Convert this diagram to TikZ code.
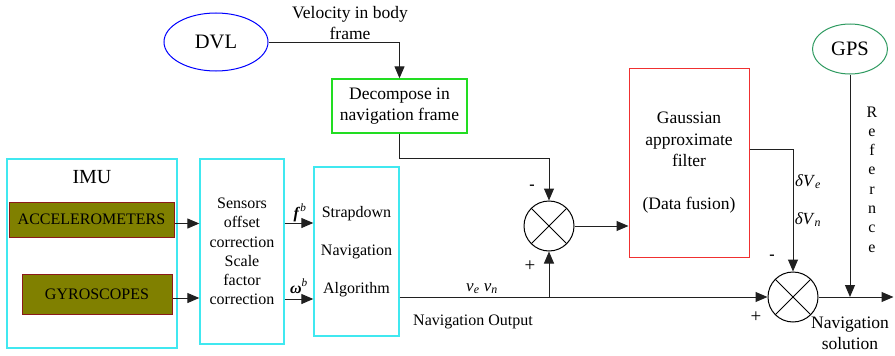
\documentclass[tikz,border=0pt]{standalone}
\usepackage{fontspec}
\setmainfont{Liberation Serif}
\usetikzlibrary{arrows.meta,shapes.geometric,calc}
\definecolor{boxcyan}{HTML}{40E8F0}
\definecolor{decgreen}{HTML}{22DD22}
\definecolor{filtred}{HTML}{F03030}
\definecolor{gpsgreen}{HTML}{2E9A60}
\definecolor{olivefill}{HTML}{808000}
\definecolor{olivebord}{HTML}{8B1A1A}
\definecolor{linecol}{HTML}{202020}
\begin{document}
\begin{tikzpicture}[x=1pt,y=-1pt,
  base/.style={font=\fontsize{16}{19.2}\selectfont, inner sep=0pt, align=center},
  big/.style={font=\fontsize{17.5}{21.3}\selectfont, inner sep=0pt, align=center},
  cyanbox/.style={draw=boxcyan, line width=1.3pt, rectangle},
  sensorbox/.style={draw=olivebord, fill=olivefill, line width=1pt, rectangle, font=\fontsize{16}{19.2}\selectfont},
  sumnode/.style={circle, draw=black, line width=1pt, minimum size=50pt, inner sep=0pt,
    path picture={\draw[line width=1pt] (path picture bounding box.north west) -- (path picture bounding box.south east)
      (path picture bounding box.north east) -- (path picture bounding box.south west);}},
  arr/.style={draw=linecol, line width=1pt, -{Triangle[length=12pt,width=10pt]}},
  ln/.style={draw=linecol, line width=1pt},
  lbl/.style={font=\fontsize{16}{19.2}\selectfont, inner sep=0pt}
]
\useasboundingbox (0,0) rectangle (895,356);

% top
\node[ellipse, draw=blue, line width=1pt, minimum width=104pt, minimum height=58pt, inner sep=0pt,
  font=\fontsize{20.5}{24}\selectfont] (dvl) at (216,42) {DVL};
\node[ellipse, draw=gpsgreen, line width=1pt, minimum width=75pt, minimum height=50pt, inner sep=0pt,
  font=\fontsize{20.5}{24}\selectfont] (gps) at (850,49) {GPS};
\node[big] (vel) at (350,23) {Velocity in body\\frame};
\node[big, draw=decgreen, line width=1.3pt, minimum width=135pt, minimum height=54pt] (dec) at (399.5,106)
  {Decompose in\\navigation frame};
\node[big, draw=filtred, line width=1pt, minimum width=120pt, minimum height=189pt] (filt) at (689,162.5)
  {Gaussian\\approximate\\filter\\[21.3pt](Data fusion)};

% left column
\node[cyanbox, minimum width=170pt, minimum height=189pt] (imu) at (92,253.5) {};
\node[font=\fontsize{20}{24}\selectfont, inner sep=0pt] (imulbl) at (92,177) {IMU};
\node[sensorbox, minimum width=165pt, minimum height=35pt] (acc) at (91.5,219.5) {ACCELEROMETERS};
\node[sensorbox, minimum width=150pt, minimum height=40pt] (gyr) at (97,294) {GYROSCOPES};
\node[cyanbox, base, minimum width=84pt, minimum height=185pt] (sens) at (242,251.5)
  {Sensors\\offset\\correction\\Scale\\factor\\correction};
\node[cyanbox, base, minimum width=85pt, minimum height=169pt] (strap) at (356.5,251.5)
  {Strapdown\\[18.8pt]Navigation\\[18.8pt]Algorithm};

% summing junctions
\node[sumnode] (s1) at (549,226) {};
\node[sumnode] (s2) at (793,297) {};

% connectors
\draw[arr] (dvl.east) -| (dec.north);
\coordinate (k1) at ($(dec.south)+(0,25)$);
\draw[arr] (dec.south) -- (k1) -| (s1.north);
\draw[arr] (s1.east) -- (s1.east -| filt.west);
\draw[arr] ([yshift=13.5pt]filt.east) -| (s2.north);
\draw[arr] ([yshift=-4pt]acc.east) -- ([yshift=-4pt]acc.east -| sens.west);
\draw[arr] ([yshift=-4pt]gyr.east) -- ([yshift=-4pt]gyr.east -| sens.west);
\draw[arr] ([yshift=28.5pt]sens.east) -- ([yshift=28.5pt]strap.west);
\draw[arr] ([yshift=-47.5pt]sens.east) -- ([yshift=-47.5pt]strap.west);
\coordinate (o1) at (strap.east |- s2.west);
\coordinate (br) at (s1.south |- s2.west);
\draw[arr] (o1) -- (s2.west);
\draw[arr] (br) -- (s1.south);
\coordinate (sol) at ($(s2.east)+(75,0)$);
\draw[arr] (s2.east) -- (sol);
\coordinate (gj) at (gps.south |- s2.east);
\draw[arr] (gps.south) -- (gj);

% labels
\node[lbl, font=\fontsize{16}{19.2}\selectfont\bfseries] (m1) at (532,187) {-};
\node[lbl, font=\fontsize{19}{22}\selectfont] (p1) at (530,266) {+};
\node[lbl, font=\fontsize{16}{19.2}\selectfont\bfseries] (m2) at (772,257) {-};
\node[lbl, font=\fontsize{19}{22}\selectfont] (p2) at (756,317) {+};
\node[lbl, anchor=base] (fb) at (300,218) {\textbf{\textit{f}}\textsuperscript{\textit{b}}};
\node[lbl, anchor=base] (wb) at (299,293) {\textbf{\textit{ω}}\textsuperscript{\textit{b}}};
\node[lbl, anchor=base, font=\fontsize{17}{20}\selectfont] (ven) at (482,291) {\textit{v}\textsubscript{\textit{e}}\ \textit{v}\textsubscript{\textit{n}}};
\node[lbl] (navout) at (473,322) {Navigation Output};
\node[lbl, anchor=base, font=\fontsize{17}{20}\selectfont] (dve) at (808,186) {\textit{δV}\textsubscript{\textit{e}}};
\node[lbl, anchor=base, font=\fontsize{17}{20}\selectfont] (dvn) at (808,224) {\textit{δV}\textsubscript{\textit{n}}};
\node[big] (navsol) at (850,333) {Navigation\\solution};
\foreach \l [count=\i] in {R,e,f,e,r,n,c,e}
  \node[lbl, anchor=base] (ref\i) at (872,{117+19.3*(\i-1)}) {\l};
\end{tikzpicture}
\end{document}
